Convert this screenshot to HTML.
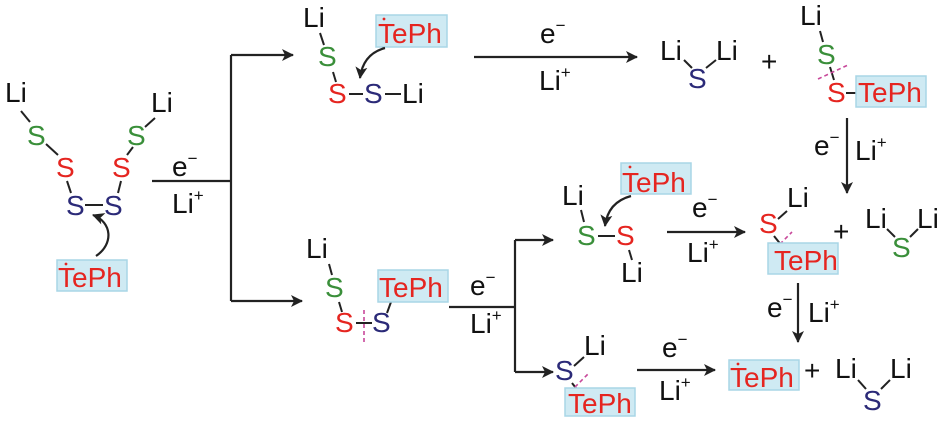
<!DOCTYPE html>
<html><head><meta charset="utf-8"><style>
body{margin:0;background:#fff}
svg{display:block}
text{font-family:"Liberation Sans",Arial,sans-serif;font-size:28px}
.k{fill:#111}.g{fill:#3a8f3a}.r{fill:#e52520}.b{fill:#2b2a78}
.box{fill:#cfeaf3;stroke:#a9d6e6;stroke-width:1.5}
.ln{stroke:#222;stroke-width:2.2;fill:none}
.bd{stroke:#222;stroke-width:2}
.cut{stroke:#c8489a;stroke-width:1.6;stroke-dasharray:4,3}
.sup{font-size:17px}
</style></head><body>
<svg width="945" height="425" viewBox="0 0 945 425">
<defs><marker id="a" markerWidth="12" markerHeight="12" refX="11" refY="6" orient="auto" markerUnits="userSpaceOnUse"><path d="M0,0 L12,6 L0,12 L3,6z" fill="#222"/></marker></defs>

<!-- Left molecule -->
<text x="5" y="102" class="k">Li</text>
<text x="27" y="145" class="g">S</text>
<text x="56" y="177" class="r">S</text>
<text x="66" y="215" class="b">S</text>
<text x="104" y="215" class="b">S</text>
<text x="112" y="177" class="r">S</text>
<text x="127" y="145" class="g">S</text>
<text x="151" y="112" class="k">Li</text>
<line class="bd" x1="21" y1="111" x2="30" y2="122"/>
<line class="bd" x1="46" y1="144" x2="58" y2="155"/>
<line class="bd" x1="67" y1="181" x2="71" y2="193"/>
<line class="bd" x1="85" y1="205" x2="103" y2="205"/>
<line class="bd" x1="118" y1="193" x2="121" y2="181"/>
<line class="bd" x1="127" y1="155" x2="133" y2="147"/>
<line class="bd" x1="145" y1="127" x2="155" y2="118"/>
<rect class="box" x="57" y="260" width="70" height="31"/>
<text x="58" y="287" class="r">TePh</text>
<circle cx="66" cy="264" r="1.4" fill="#e52520"/>
<path class="ln" d="M96,256 C114,244 112,222 93,215" marker-end="url(#a)"/>

<!-- first split -->
<line class="ln" x1="152" y1="181" x2="231" y2="181"/>
<line class="ln" x1="231" y1="55" x2="231" y2="301"/>
<line class="ln" x1="231" y1="55" x2="293" y2="55" marker-end="url(#a)"/>
<line class="ln" x1="231" y1="301" x2="302" y2="301" marker-end="url(#a)"/>
<text x="172" y="176" class="k">e<tspan class="sup" dy="-12">−</tspan></text>
<text x="172" y="213" class="k">Li<tspan class="sup" dy="-12">+</tspan></text>

<!-- top middle molecule -->
<text x="303" y="27" class="k">Li</text>
<text x="318" y="66" class="g">S</text>
<text x="328" y="103" class="r">S</text>
<text x="364" y="103" class="b">S</text>
<text x="402" y="103" class="k">Li</text>
<line class="bd" x1="320" y1="33" x2="324" y2="45"/>
<line class="bd" x1="333" y1="72" x2="336" y2="82"/>
<line class="bd" x1="349" y1="94" x2="363" y2="94"/>
<line class="bd" x1="385" y1="94" x2="401" y2="94"/>
<rect class="box" x="376" y="15" width="71" height="32"/>
<text x="378" y="43" class="r">TePh</text>
<circle cx="384" cy="19" r="1.4" fill="#e52520"/>
<path class="ln" d="M385,48 C370,52 362,62 360,78" marker-end="url(#a)"/>

<!-- top reaction -->
<line class="ln" x1="474" y1="57" x2="637" y2="57" marker-end="url(#a)"/>
<text x="540" y="43" class="k">e<tspan class="sup" dy="-12">−</tspan></text>
<text x="539" y="90" class="k">Li<tspan class="sup" dy="-12">+</tspan></text>
<text x="660" y="60" class="k">Li</text>
<text x="716" y="60" class="k">Li</text>
<text x="688" y="88" class="b">S</text>
<line class="bd" x1="684" y1="60" x2="692" y2="68"/>
<line class="bd" x1="706" y1="68" x2="716" y2="60"/>
<text x="761" y="71" class="k">+</text>
<text x="800" y="25" class="k">Li</text>
<text x="817" y="64" class="g">S</text>
<text x="827" y="102" class="r">S</text>
<line class="bd" x1="820" y1="31" x2="823" y2="42"/>
<line class="bd" x1="830" y1="67" x2="834" y2="80"/>
<line class="cut" x1="818" y1="79" x2="848" y2="65"/>
<line class="bd" x1="846" y1="93" x2="858" y2="93"/>
<rect class="box" x="856" y="76" width="70" height="31"/>
<text x="858" y="102" class="r">TePh</text>
<line class="ln" x1="847" y1="118" x2="847" y2="193" marker-end="url(#a)"/>
<text x="814" y="155" class="k">e<tspan class="sup" dy="-12">−</tspan></text>
<text x="855" y="160" class="k">Li<tspan class="sup" dy="-12">+</tspan></text>

<!-- bottom middle molecule -->
<text x="306" y="258" class="k">Li</text>
<text x="325" y="297" class="g">S</text>
<text x="335" y="332" class="r">S</text>
<text x="372" y="332" class="b">S</text>
<line class="bd" x1="329" y1="264" x2="332" y2="275"/>
<line class="bd" x1="339" y1="302" x2="342" y2="312"/>
<line class="bd" x1="356" y1="323" x2="372" y2="323"/>
<line class="cut" x1="364" y1="310" x2="364" y2="344"/>
<line class="bd" x1="387" y1="313" x2="391" y2="302"/>
<rect class="box" x="378" y="270" width="70" height="32"/>
<text x="379" y="297" class="r">TePh</text>

<line class="ln" x1="449" y1="307" x2="515" y2="307"/>
<line class="ln" x1="515" y1="240" x2="515" y2="372"/>
<line class="ln" x1="515" y1="240" x2="553" y2="240" marker-end="url(#a)"/>
<line class="ln" x1="515" y1="372" x2="553" y2="372" marker-end="url(#a)"/>
<text x="470" y="295" class="k">e<tspan class="sup" dy="-12">−</tspan></text>
<text x="470" y="333" class="k">Li<tspan class="sup" dy="-12">+</tspan></text>

<!-- middle right row -->
<rect class="box" x="621" y="163" width="70" height="31"/>
<text x="622" y="192" class="r">TePh</text>
<circle cx="630" cy="167" r="1.4" fill="#e52520"/>
<text x="562" y="205" class="k">Li</text>
<text x="577" y="245" class="g">S</text>
<text x="616" y="245" class="r">S</text>
<text x="621" y="282" class="k">Li</text>
<line class="bd" x1="581" y1="210" x2="584" y2="222"/>
<line class="bd" x1="598" y1="236" x2="615" y2="236"/>
<line class="bd" x1="629" y1="250" x2="632" y2="260"/>
<path class="ln" d="M631,196 C616,200 607,210 605,226" marker-end="url(#a)"/>
<line class="ln" x1="667" y1="232" x2="745" y2="232" marker-end="url(#a)"/>
<text x="692" y="217" class="k">e<tspan class="sup" dy="-12">−</tspan></text>
<text x="687" y="262" class="k">Li<tspan class="sup" dy="-12">+</tspan></text>
<text x="759" y="233" class="r">S</text>
<text x="787" y="207" class="k">Li</text>
<line class="bd" x1="778" y1="219" x2="787" y2="211"/>
<line class="bd" x1="774" y1="236" x2="782" y2="246"/>
<line class="cut" x1="770" y1="254" x2="792" y2="232"/>
<rect class="box" x="768" y="243" width="70" height="31"/>
<text x="774" y="270" class="r">TePh</text>
<text x="833" y="241" class="k">+</text>
<text x="865" y="228" class="k">Li</text>
<text x="917" y="228" class="k">Li</text>
<text x="892" y="257" class="g">S</text>
<line class="bd" x1="887" y1="229" x2="895" y2="237"/>
<line class="bd" x1="910" y1="237" x2="918" y2="229"/>
<line class="ln" x1="798" y1="283" x2="798" y2="342" marker-end="url(#a)"/>
<text x="767" y="317" class="k">e<tspan class="sup" dy="-12">−</tspan></text>
<text x="808" y="322" class="k">Li<tspan class="sup" dy="-12">+</tspan></text>

<!-- bottom row -->
<text x="555" y="380" class="b">S</text>
<text x="584" y="355" class="k">Li</text>
<line class="bd" x1="574" y1="366" x2="584" y2="357"/>
<line class="bd" x1="572" y1="383" x2="579" y2="392"/>
<line class="cut" x1="565" y1="397" x2="588" y2="374"/>
<rect class="box" x="565" y="388" width="70" height="28"/>
<text x="568" y="413" class="r">TePh</text>
<line class="ln" x1="637" y1="370" x2="715" y2="370" marker-end="url(#a)"/>
<text x="662" y="357" class="k">e<tspan class="sup" dy="-12">−</tspan></text>
<text x="659" y="400" class="k">Li<tspan class="sup" dy="-12">+</tspan></text>
<rect class="box" x="729" y="360" width="70" height="30"/>
<text x="730" y="387" class="r">TePh</text>
<circle cx="738" cy="364" r="1.4" fill="#e52520"/>
<text x="804" y="380" class="k">+</text>
<text x="835" y="378" class="k">Li</text>
<text x="890" y="378" class="k">Li</text>
<text x="863" y="410" class="b">S</text>
<line class="bd" x1="858" y1="380" x2="866" y2="389"/>
<line class="bd" x1="881" y1="389" x2="890" y2="380"/>
</svg>
</body></html>
